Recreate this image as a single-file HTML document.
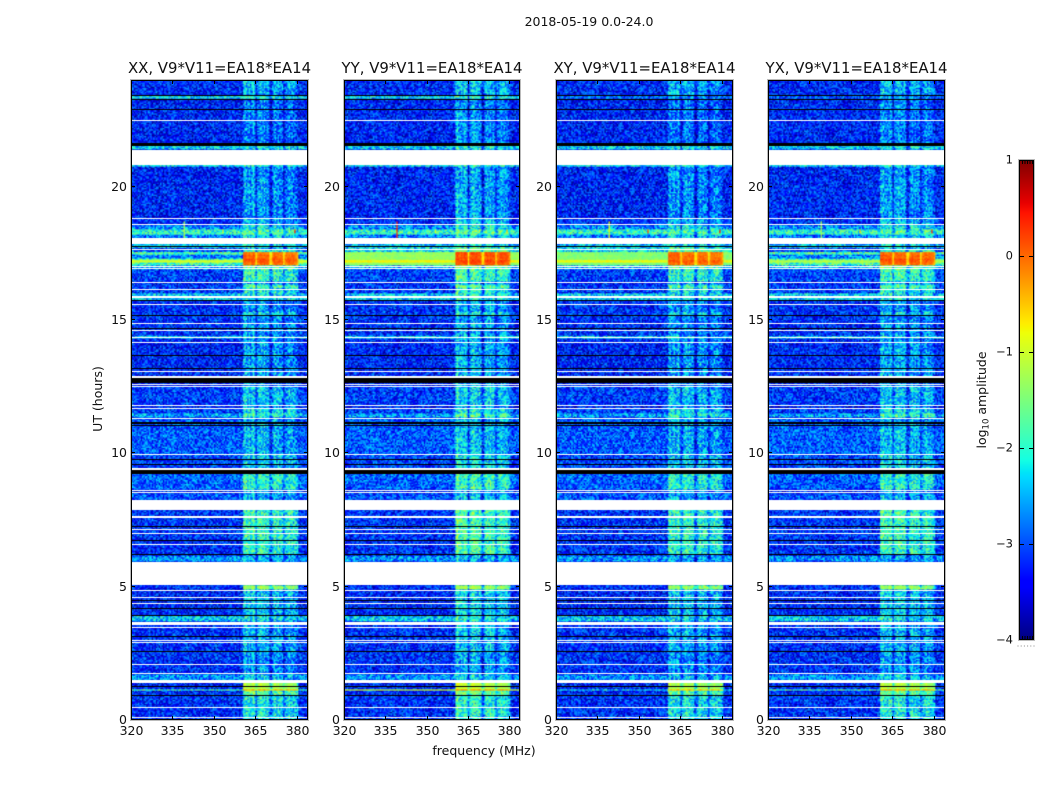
<!DOCTYPE html>
<html lang="en">
<head>
<meta charset="utf-8">
<title>2018-05-19 0.0-24.0</title>
<style>
html,body{margin:0;padding:0;background:#fff;}
#figure{position:relative;width:1050px;height:800px;overflow:hidden;background:#fff;font-family:"DejaVu Sans","Liberation Sans",sans-serif;}
canvas{position:absolute;display:block;}
#overlay{position:absolute;left:0;top:0;}
#overlay text{font-family:"DejaVu Sans","Liberation Sans",sans-serif;fill:#111;}
</style>
</head>
<body>
<div id="figure">
<canvas id="panel-0" width="177" height="640" style="left:131px;top:80px"></canvas>
<canvas id="panel-1" width="176" height="640" style="left:344px;top:80px"></canvas>
<canvas id="panel-2" width="177" height="640" style="left:556px;top:80px"></canvas>
<canvas id="panel-3" width="177" height="640" style="left:768px;top:80px"></canvas>
<svg id="overlay" width="1050" height="800" xmlns="http://www.w3.org/2000/svg"></svg>
</div>
<script>
// ---- labels and ticks ----
const panelTitles = ["XX, V9*V11=EA18*EA14", "YY, V9*V11=EA18*EA14", "XY, V9*V11=EA18*EA14", "YX, V9*V11=EA18*EA14"];
const freqTicks = [320, 335, 350, 365, 380];
const hourTicks = [0, 5, 10, 15, 20];
const colorTicks = [1, 0, -1, -2, -3, -4];

// ---- time bands (UT hours) with log10 amplitude outside / inside the 360-380 MHz block ----
const bandStart = [21.64,23.44,23.30,21.39,20.76,18.80,18.55,18.40,18.20,18.05,17.72,17.55,17.44,17.32,17.25,17.17,17.06,16.90,16.43,16.00,16.20,15.75,14.40,15.15,14.29,12.80,11.81,11.50,11.33,9.94,9.40,8.63,8.25,6.20,5.94,4.88,3.94,3.68,2.62,1.69,1.50,0.94,1.09,0.94,0.00];
const bandEnd   = [24.00,24.00,23.39,21.53,20.83,20.76,18.80,18.55,18.40,18.20,17.85,17.63,17.55,17.44,17.32,17.25,17.17,17.06,16.90,16.37,16.30,16.00,15.75,15.30,14.40,14.18,12.50,11.70,11.50,11.29,9.94,9.24,8.50,7.88,6.17,5.06,4.88,3.90,3.56,2.62,1.69,1.39,1.14,1.09,0.94];
const bandLevel = [-3.30,-3.25,-2.25,-2.35,-2.30,-3.30,-3.20,-2.70,-2.00,-2.80,-2.40,-3.00,-1.80,-2.70,-1.90,-1.00,-1.80,-2.60,-3.15,-3.20,-3.20,-2.35,-3.22,-3.22,-2.30,-3.30,-3.15,-3.15,-2.60,-2.98,-3.10,-2.95,-3.00,-3.22,-2.70,-3.22,-3.30,-2.40,-3.22,-3.22,-2.70,-3.30,-1.90,-3.30,-3.22];
const bandRfi   = [-3.00,-2.70,-2.25,-2.35,-2.30,-2.85,-2.65,-2.40,-2.00,-2.40,-2.40,-2.20,-0.15,-0.05,0.10,0.00,-0.10,-1.95,-2.15,-2.35,-1.95,-2.35,-2.85,-2.45,-2.40,-2.80,-2.60,-2.45,-2.10,-2.70,-2.55,-2.20,-2.70,-2.15,-2.70,-1.55,-2.60,-2.40,-2.70,-2.85,-2.60,-1.40,-0.45,-1.90,-2.35];

// ---- per-panel overrides of the shared bands ----
const extraPanel = [1,1,1,1,2,2,2,2,3,2,3];
const extraStart = [17.55,17.06,17.17,1.09,17.55,17.06,17.17,1.09,23.30,23.30,17.17];
const extraEnd   = [17.70,17.55,17.25,1.14,17.70,17.55,17.25,1.14,23.39,23.39,17.25];
const extraLevel = [-2.20,-1.35,-0.80,-1.05,-2.30,-1.45,-0.85,-2.30,-3.00,-2.90,-1.20];
const extraRfi   = [-1.80,-0.05,0.05,-0.40,-1.80,-0.05,0.05,-0.50,-2.85,-2.85,0.00];

// ---- frequency response of the 360.5-380 MHz block, 0.5 MHz per channel ----
const rfiStartMHz = 360.5;
const channelGain = [0.25,0.40,0.30,0.15,0.30,0.10,0.25,0.35,0.10,-0.60,-0.10,0.20,0.35,0.40,0.15,0.30,0.10,0.25,0.05,-0.60,-0.60,-0.05,0.20,0.30,0.05,0.25,0.05,0.20,-0.05,-0.60,-0.15,0.00,0.15,0.25,0.05,0.20,0.00,0.10,-0.10,-0.35];
const panelRfiGain = [0, 0.10, -0.05, 0.02];

// ---- narrow spikes seen around 18 UT ----
const spikePanel = [0,1,2,3,0,1,2,3,0,1,2,3];
const spikeMHz   = [339,339,339,339,353,353,353,353,379,379,379,379];
const spikeStart = [18.05,18.05,18.05,18.05,18.25,18.25,18.25,18.25,18.25,18.25,18.25,18.25];
const spikeEnd   = [18.70,18.70,18.70,18.70,18.40,18.40,18.40,18.40,18.40,18.40,18.40,18.40];
const spikeValue = [-1.20,0.40,-0.90,-1.20,-0.90,-1.00,0.10,-0.60,0.30,-0.60,0.40,0.20];

// ---- flagged (white) and blanked (black) time ranges, UT hours ----
const whiteStart = [22.46,20.83,18.79,18.56,17.85,17.63,16.99,16.91,16.37,16.13,15.84,15.56,14.85,14.59,14.33,14.14,13.05,12.84,12.56,12.51,11.78,11.66,11.29,9.94,9.38,8.59,8.51,7.88,7.59,7.13,6.98,6.56,5.06,4.84,4.58,4.35,3.56,3.45,2.96,2.89,2.06,1.73,1.39,0.45,0.08];
const whiteEnd   = [22.50,21.39,18.83,18.60,18.06,17.66,17.03,16.95,16.43,16.16,15.90,15.60,14.89,14.63,14.38,14.18,13.09,12.90,12.60,12.54,11.81,11.70,11.33,9.98,9.45,8.63,8.55,8.25,7.65,7.16,7.01,6.60,5.94,4.88,4.61,4.39,3.68,3.49,3.00,2.93,2.10,1.76,1.50,0.49,0.11];
const blackStart = [23.39,23.27,22.88,21.53,18.05,17.72,15.71,15.15,14.66,13.65,13.16,12.62,11.10,11.01,9.75,9.56,9.24,7.24,6.71,6.17,4.46,4.16,3.90,3.11,2.55,1.24,0.90];
const blackEnd   = [23.42,23.30,22.91,21.62,18.08,17.76,15.75,15.19,14.70,13.69,13.20,12.81,11.18,11.07,9.79,9.60,9.38,7.28,6.75,6.24,4.50,4.20,3.94,3.15,2.59,1.28,0.94];

// ---- visual speckle only: a hand-typed tile of offsets standing in for receiver noise ----
const speckleTile = [0.12,-0.31,0.27,-0.08,0.41,-0.22,0.05,-0.44,0.33,0.18,-0.15,0.36,-0.38,0.09,-0.27,0.22,0.44,-0.05,-0.35,0.15,0.30,-0.18,-0.48,0.25,0.02,0.38,-0.12,-0.29,0.20,-0.41,0.07,0.34,-0.24,0.16,-0.02,0.46,-0.33,0.11,-0.20,0.28,-0.46,0.04,0.39,-0.10,0.23,-0.36,0.14,0.31,-0.26,-0.06,0.42,-0.16,0.08,-0.40,0.26,0.19,-0.30,0.35,-0.13,0.01,-0.23];

const defaultLevel = -3.30;
const defaultRfi = -2.85;
const channelCount = 128;
const channelMHz = 0.5;
const rowCount = 480;

// ---- geometry and axis functions ----
const panelLeft = [131, 344, 556, 768];
const panelWidth = [177, 176, 177, 177];
const plotTop = 80, plotHeight = 640;
const freqMin = 320, freqMax = 384, hourMax = 24;
const barLeft = 1019, barWidth = 15, barTop = 160, barHeight = 480;
const colorMin = -4, colorMax = 1;

function xScale(mhz, p) { return panelLeft[p] + (mhz - freqMin) / (freqMax - freqMin) * panelWidth[p]; }
function yScale(hour) { return plotTop + (hourMax - hour) / hourMax * plotHeight; }
function cScale(v) { return barTop + (colorMax - v) / (colorMax - colorMin) * barHeight; }

function segment(pts, x) {
  for (let i = 1; i < pts.length; i++) {
    if (x <= pts[i][0]) {
      const a = pts[i - 1], b = pts[i];
      return a[1] + (b[1] - a[1]) * (x - a[0]) / (b[0] - a[0]);
    }
  }
  return pts[pts.length - 1][1];
}
const jetR = [[0,0],[0.35,0],[0.66,1],[0.89,1],[1,0.5]];
const jetG = [[0,0],[0.125,0],[0.375,1],[0.64,1],[0.91,0],[1,0]];
const jetB = [[0,0.5],[0.11,1],[0.34,1],[0.65,0],[1,0]];
function jet(v) {
  const t = Math.max(0, Math.min(1, (v - colorMin) / (colorMax - colorMin)));
  return [segment(jetR, t) * 255, segment(jetG, t) * 255, segment(jetB, t) * 255];
}

function cellValue(p, c, r) {
  const hour = (r + 0.5) * hourMax / rowCount;
  const mhz = freqMin + c * channelMHz;
  const g = Math.round((mhz - rfiStartMHz) / channelMHz);
  const inRfi = g >= 0 && g < channelGain.length;
  let level = defaultLevel, rfi = defaultRfi;
  for (let i = 0; i < bandStart.length; i++) {
    if (hour >= bandStart[i] && hour < bandEnd[i]) { level = bandLevel[i]; rfi = bandRfi[i]; }
  }
  for (let i = 0; i < extraPanel.length; i++) {
    if (extraPanel[i] === p && hour >= extraStart[i] && hour < extraEnd[i]) { level = extraLevel[i]; rfi = extraRfi[i]; }
  }
  let v = level;
  if (inRfi) {
    const gain = channelGain[g];
    const scaled = (rfi > -1 && gain > 0) ? gain * 0.3 : gain;
    v = rfi + scaled + panelRfiGain[p];
  }
  for (let i = 0; i < spikeMHz.length; i++) {
    if (spikePanel[i] === p && Math.abs(mhz - spikeMHz[i]) < 0.4 && hour >= spikeStart[i] && hour < spikeEnd[i]) { v = spikeValue[i]; }
  }
  const idx = (c * c * 7 + r * r * 3 + c * r * 11 + p * 23 + c * 5 + r * 2) % speckleTile.length;
  const amount = v < -1.5 ? 1.5 : 0.4;
  return v + speckleTile[idx] * amount;
}

function drawPanel(p) {
  const off = document.createElement('canvas');
  off.width = channelCount;
  off.height = rowCount;
  const octx = off.getContext('2d');
  const img = octx.createImageData(channelCount, rowCount);
  for (let r = 0; r < rowCount; r++) {
    for (let c = 0; c < channelCount; c++) {
      const rgb = jet(cellValue(p, c, r));
      const o = ((rowCount - 1 - r) * channelCount + c) * 4;
      img.data[o] = rgb[0];
      img.data[o + 1] = rgb[1];
      img.data[o + 2] = rgb[2];
      img.data[o + 3] = 255;
    }
  }
  octx.putImageData(img, 0, 0);
  const cv = document.getElementById('panel-' + p);
  const ctx = cv.getContext('2d');
  ctx.imageSmoothingEnabled = true;
  ctx.drawImage(off, 0, 0, cv.width, cv.height);
  function flagRow(start, end, color) {
    const y0 = Math.round(yScale(end) - plotTop);
    const y1 = Math.max(y0 + 1, Math.round(yScale(start) - plotTop));
    ctx.fillStyle = color;
    ctx.fillRect(0, y0, cv.width, y1 - y0);
  }
  for (let i = 0; i < blackStart.length; i++) { flagRow(blackStart[i], blackEnd[i], '#000'); }
  for (let i = 0; i < whiteStart.length; i++) { flagRow(whiteStart[i], whiteEnd[i], '#fff'); }
}

// ---- svg overlay ----
const svgNS = 'http://www.w3.org/2000/svg';
const overlay = document.getElementById('overlay');

function addLine(x1, y1, x2, y2, name, color) {
  const el = document.createElementNS(svgNS, 'line');
  el.setAttribute('x1', x1);
  el.setAttribute('y1', y1);
  el.setAttribute('x2', x2);
  el.setAttribute('y2', y2);
  el.setAttribute('stroke', color || '#000');
  el.setAttribute('stroke-width', 1);
  
  
  overlay.appendChild(el);
}
function addText(x, y, str, size, anchor, name, rotate) {
  const el = document.createElementNS(svgNS, 'text');
  el.setAttribute('x', x);
  el.setAttribute('y', y);
  el.setAttribute('font-size', size);
  el.setAttribute('text-anchor', anchor);
  if (rotate) { el.setAttribute('transform', 'rotate(' + rotate + ' ' + x + ' ' + y + ')'); }
  el.textContent = str;
  
  
  overlay.appendChild(el);
  return el;
}
function addFrame(x, y, w, h, name) {
  const halo = document.createElementNS(svgNS, 'rect');
  halo.setAttribute('x', x - 0.5);
  halo.setAttribute('y', y - 0.5);
  halo.setAttribute('width', w + 1);
  halo.setAttribute('height', h + 1);
  halo.setAttribute('fill', 'none');
  halo.setAttribute('stroke', '#bbb');
  halo.setAttribute('stroke-width', 1);
  
  
  overlay.appendChild(halo);
  const el = document.createElementNS(svgNS, 'rect');
  el.setAttribute('x', x + 0.5);
  el.setAttribute('y', y + 0.5);
  el.setAttribute('width', w - 1);
  el.setAttribute('height', h - 1);
  el.setAttribute('fill', 'none');
  el.setAttribute('stroke', '#000');
  el.setAttribute('stroke-width', 1);
  
  
  overlay.appendChild(el);
}

function drawAxes(p) {
  const key = panelTitles[p].slice(0, 2).toLowerCase();
  const left = panelLeft[p], right = left + panelWidth[p], bottom = plotTop + plotHeight;
  addFrame(left, plotTop, panelWidth[p], plotHeight, key + '-axes-frame');
  addText(left + panelWidth[p] / 2, 73, panelTitles[p], 14.9, 'middle', key + '-title');
  freqTicks.forEach(function (f) {
    const x = Math.round(xScale(f, p)) + 0.5;
    addLine(x, bottom, x, bottom - 4, key + '-x-tick-' + f);
    addLine(x, plotTop, x, plotTop + 4, key + '-x-tick-top-' + f);
    addText(x, 735, String(f), 12.5, 'middle', key + '-x-tick-label-' + f);
  });
  hourTicks.forEach(function (h) {
    const y = Math.min(Math.round(yScale(h)) - 0.5, bottom - 0.5);
    addLine(left, y, left + 4, y, key + '-y-tick-' + h);
    addLine(right, y, right - 4, y, key + '-y-tick-right-' + h);
    addText(left - 4, y + 4.5, String(h), 12.5, 'end', key + '-y-tick-label-' + h);
  });
}

function drawColorbar() {
  for (let y = 0; y < barHeight; y++) {
    const v = colorMax - (y + 0.5) / barHeight * (colorMax - colorMin);
    const rgb = jet(v);
    const el = document.createElementNS(svgNS, 'rect');
    el.setAttribute('x', barLeft);
    el.setAttribute('y', barTop + y);
    el.setAttribute('width', barWidth);
    el.setAttribute('height', 1);
    el.setAttribute('fill', 'rgb(' + Math.round(rgb[0]) + ',' + Math.round(rgb[1]) + ',' + Math.round(rgb[2]) + ')');
    
    
    overlay.appendChild(el);
  }
  addFrame(barLeft, barTop, barWidth, barHeight, 'colorbar-frame');
  colorTicks.forEach(function (v) {
    const y = Math.min(Math.round(cScale(v)) + 0.5, barTop + barHeight - 0.5);
    addLine(barLeft, y, barLeft + 5, y, 'colorbar-tick-' + v);
    addLine(barLeft + barWidth, y, barLeft + barWidth - 5, y, 'colorbar-tick-right-' + v);
    const label = v < 0 ? '\u2212' + Math.abs(v) : String(v);
    addText(barLeft - 6, cScale(v) + 3.5, label, 11.5, 'end', 'colorbar-tick-label-' + v);
  });
  for (let i = 0; i < 5; i++) {
    const x = barLeft + 3.5 + i * 2.5;
    addLine(x, barTop, x, barTop + 4, 'colorbar-top-minor-tick');
    addLine(x, barTop + barHeight, x, barTop + barHeight - 4, 'colorbar-bottom-minor-tick');
  }
  for (let i = 0; i < 6; i++) {
    const x = barLeft - 1.5 + i * 3.2;
    addLine(x, 646, x + 1, 646, 'colorbar-minor-label-dot', '#888');
  }
  const label = addText(986, 400, 'log', 12.5, 'middle', 'colorbar-title', -90);
  const sub = document.createElementNS(svgNS, 'tspan');
  sub.setAttribute('font-size', 8.5);
  sub.setAttribute('dy', 2.5);
  sub.textContent = '10';
  
  
  label.appendChild(sub);
  const rest = document.createElementNS(svgNS, 'tspan');
  rest.setAttribute('dy', -2.5);
  rest.textContent = ' amplitude';
  
  
  label.appendChild(rest);
}

for (let p = 0; p < panelTitles.length; p++) {
  drawPanel(p);
  drawAxes(p);
}
drawColorbar();
addText(589, 26, '2018-05-19 0.0-24.0', 12.5, 'middle', 'figure-title');
addText(484, 755, 'frequency (MHz)', 12.5, 'middle', 'x-axis-title');
addText(102, 399, 'UT (hours)', 12.5, 'middle', 'y-axis-title', -90);
</script>
</body>
</html>
